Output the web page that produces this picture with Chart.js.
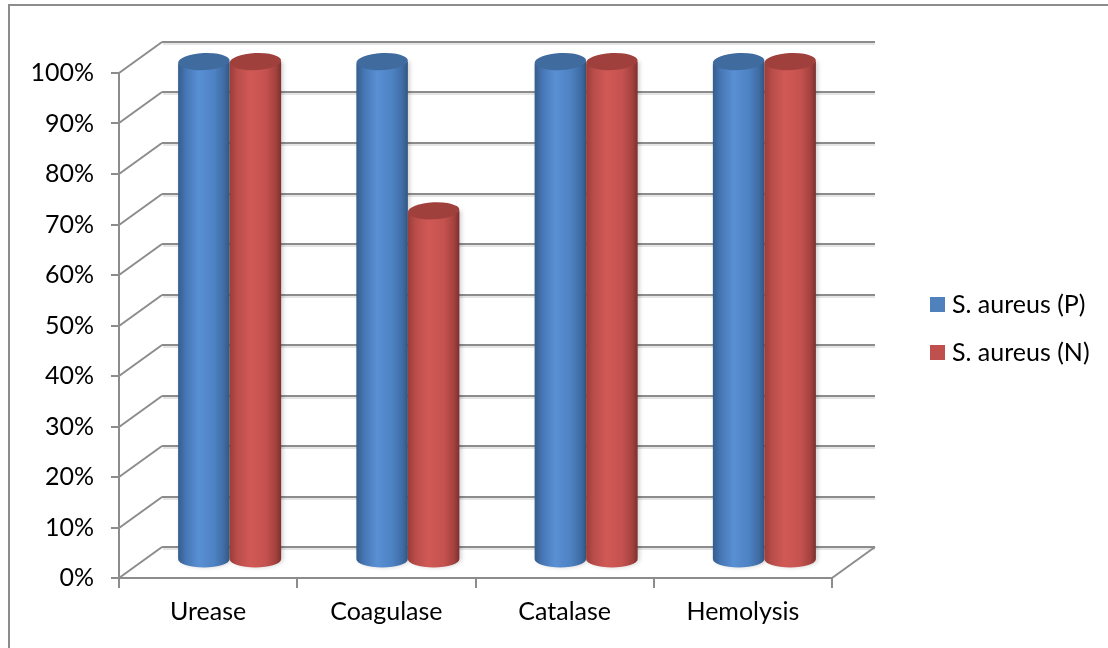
<!DOCTYPE html>
<html lang="en">
<head>
<meta charset="UTF-8">
<title>S. aureus biochemical tests</title>
<script src="https://cdn.jsdelivr.net/npm/chart.js"></script>
<style>
    html, body { margin: 0; padding: 0; background: #fff; overflow: hidden; }
    .frame {
        position: absolute; left: 8px; top: 4px; width: 1200px; height: 700px;
        border-left: 2px solid #8c8c8c; border-top: 2px solid #8c8c8c;
    }
    .chart-box { position: absolute; left: 0; top: 0; width: 1108px; height: 648px; }
</style>
</head>
<body>
<div class="frame"></div>
<div class="chart-box"><canvas id="testChart"></canvas></div>
<script>
    const categories = ['Urease', 'Coagulase', 'Catalase', 'Hemolysis'];
    const positive = [100, 100, 100, 100];   // S. aureus (P)
    const negative = [100, 70, 100, 100];    // S. aureus (N)
    const seriesNames = ['S. aureus (P)', 'S. aureus (N)'];
    const seriesColors = ['#4F81BD', '#C0504D'];
    const yTicks = [0, 10, 20, 30, 40, 50, 60, 70, 80, 90, 100];

    // depth of the 3d box (back wall offset)
    const DX = 43, DY = -31;
    const FONT = { family: 'Lato', size: 25 };
    const LINE = '#8c8c8c';

    const shades = {
        '#4F81BD': { side: ['#365d8c', '#4676b4', '#5990d4', '#4d82c3', '#3f6ba3', '#33567f'], top: '#406b9f' },
        '#C0504D': { side: ['#9a3d3a', '#b94d4a', '#d15955', '#c5524f', '#a3413e', '#7c302e'], top: '#a0403d' }
    };

    function line(ctx, x1, y1, x2, y2) {
        ctx.beginPath();
        ctx.moveTo(x1, y1);
        ctx.lineTo(x2, y2);
        ctx.stroke();
    }

    const box3d = {
        id: 'box3d',
        beforeDatasetsDraw(chart) {
            const ctx = chart.ctx, a = chart.chartArea;
            const ys = chart.scales.y, xs = chart.scales.x;
            ctx.save();
            ctx.lineWidth = 2;
            // back wall gridlines with a faint shadow
            yTicks.forEach(v => {
                const py = Math.round(ys.getPixelForValue(v)) + DY;
                ctx.strokeStyle = 'rgba(0,0,0,0.10)';
                line(ctx, a.left + DX + 1, py + 2, a.right + DX, py + 2);
                ctx.strokeStyle = LINE;
                line(ctx, a.left + DX, py, a.right + DX, py);
            });
            ctx.strokeStyle = LINE;
            yTicks.forEach(v => {
                const py = Math.round(ys.getPixelForValue(v));
                line(ctx, a.left, py, a.left + DX, py + DY);
                line(ctx, a.left - 8, py, a.left, py);
            });
            line(ctx, a.left, a.top, a.left, a.bottom);
            line(ctx, a.left, a.bottom, a.right, a.bottom);
            line(ctx, a.right, a.bottom, a.right + DX, a.bottom + DY);
            for (let i = 0; i <= categories.length; i++) {
                const px = Math.round(xs.getPixelForValue(i - 0.5));
                line(ctx, px, a.bottom, px, a.bottom + 10);
            }

            // cylinders, drawn from the bar elements
            chart.data.datasets.forEach((ds, di) => {
                const pal = shades[seriesColors[di]];
                chart.getDatasetMeta(di).data.forEach(el => {
                    const p = el.getProps(['x', 'y', 'base', 'width'], true);
                    const cx = p.x + DX / 2, rx = p.width / 2, ry = 8.5;
                    const yb = p.base + DY / 2 - 3.5;
                    const yt = yb - (p.base - p.y) * 0.985;
                    const g = ctx.createLinearGradient(cx - rx, 0, cx + rx, 0);
                    [0, 0.15, 0.4, 0.7, 0.9, 1].forEach((s, k) => g.addColorStop(s, pal.side[k]));
                    ctx.save();
                    ctx.shadowColor = 'rgba(0,0,0,0.18)';
                    ctx.shadowBlur = 4;
                    ctx.shadowOffsetX = 2;
                    ctx.beginPath();
                    ctx.moveTo(cx - rx, yt + 2);
                    ctx.lineTo(cx - rx, yb);
                    ctx.ellipse(cx, yb, rx, ry, 0, Math.PI, 0, true);
                    ctx.lineTo(cx + rx, yt);
                    ctx.closePath();
                    ctx.fillStyle = g;
                    ctx.fill();
                    ctx.restore();
                    ctx.beginPath();
                    ctx.ellipse(cx, yt, rx, ry, -0.05, 0, Math.PI * 2);
                    ctx.fillStyle = pal.top;
                    ctx.fill();
                });
            });
            ctx.restore();
            return false;
        },
        afterDraw(chart) {
            const ctx = chart.ctx;
            ctx.save();
            ctx.font = '25px Lato';
            ctx.textBaseline = 'middle';
            ctx.fillStyle = '#000';
            seriesNames.forEach((name, i) => {
                const y = 304 + i * 48;
                ctx.fillStyle = seriesColors[i];
                ctx.fillRect(930, y - 7, 15, 15);
                ctx.fillStyle = '#000';
                ctx.fillText(name, 952, y + 1);
            });
            ctx.restore();
        }
    };

    new Chart(document.getElementById('testChart').getContext('2d'), {
        type: 'bar',
        data: {
            labels: categories,
            datasets: [
                { label: seriesNames[0], data: positive, backgroundColor: seriesColors[0] },
                { label: seriesNames[1], data: negative, backgroundColor: seriesColors[1] }
            ]
        },
        options: {
            responsive: true,
            maintainAspectRatio: false,
            animation: false,
            layout: { padding: { left: 0, top: 73, right: 276, bottom: 0 } },
            datasets: { bar: { categoryPercentage: 0.578, barPercentage: 1.0 } },
            plugins: { legend: { display: false }, tooltip: { enabled: false } },
            scales: {
                x: {
                    grid: { display: false, drawTicks: false },
                    border: { display: false },
                    ticks: { font: FONT, color: '#000', padding: 19 },
                    afterFit: s => { s.height = 70; }
                },
                y: {
                    min: 0,
                    max: 100,
                    grid: { display: false, drawTicks: false },
                    border: { display: false },
                    ticks: { stepSize: 10, font: FONT, color: '#000', padding: 25, callback: v => v + '%' },
                    afterFit: s => { s.width = 119; }
                }
            }
        },
        plugins: [box3d]
    });
</script>
</body>
</html>
